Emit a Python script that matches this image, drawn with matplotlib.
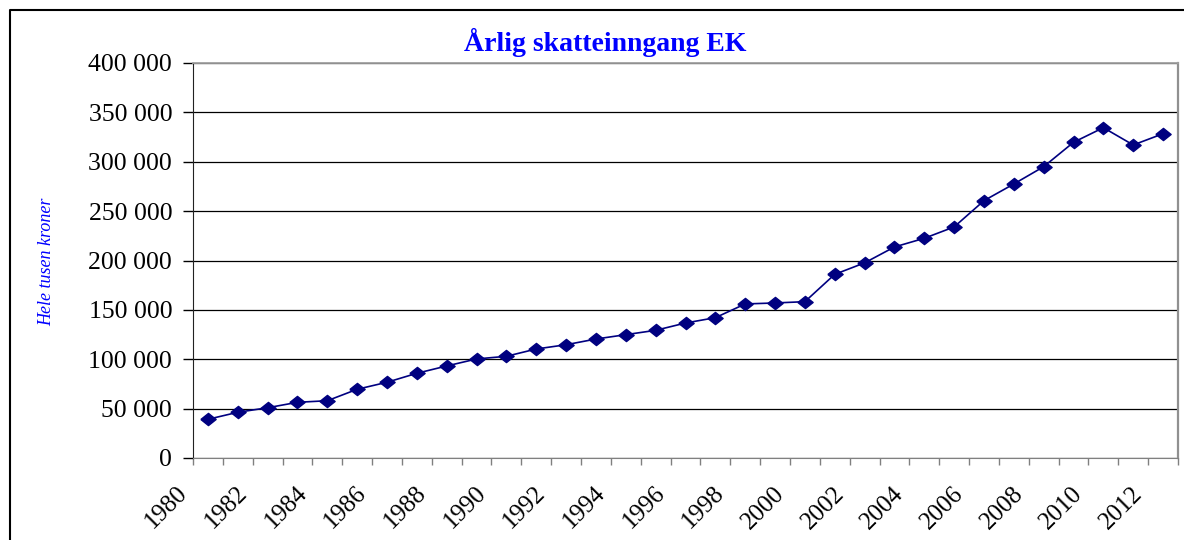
import matplotlib.pyplot as plt
from matplotlib.ticker import FuncFormatter, FixedLocator
from matplotlib.lines import Line2D
from matplotlib.transforms import ScaledTranslation

aar = ["1980", "1981", "1982", "1983", "1984", "1985", "1986", "1987", "1988", "1989",
       "1990", "1991", "1992", "1993", "1994", "1995", "1996", "1997", "1998", "1999",
       "2000", "2001", "2002", "2003", "2004", "2005", "2006", "2007", "2008", "2009",
       "2010", "2011", "2012"]
skatt = [39200, 46300, 50900, 56400, 58000, 69600, 76700, 85800, 93200, 100300,
         103000, 110400, 114700, 120500, 124900, 129300, 136700, 142100, 156000, 157000,
         158300, 186000, 197600, 213700, 222500, 234000, 260600, 277500, 295000, 319700,
         334500, 317000, 328400]
y_ticks = [0, 50000, 100000, 150000, 200000, 250000, 300000, 350000, 400000]

plt.rcParams['font.family'] = ['Liberation Serif', 'DejaVu Serif']

fig = plt.figure(figsize=(11.84, 5.4), dpi=100)
ax = fig.add_axes([193/1184, 82/540, 985/1184, 395/540])

x = list(range(len(aar)))
diamant = [(-1, 0), (0, 0.8), (1, 0), (0, -0.8), (-1, 0)]
ax.plot(x, skatt, color="#000080", lw=1.2, marker=diamant, markersize=11, zorder=3)

ax.set_xlim(-0.5, len(aar) - 0.5)
ax.set_ylim(0, 400000)
ax.set_yticks(y_ticks)
ax.yaxis.set_major_formatter(FuncFormatter(lambda v, p: format(int(v), ",").replace(",", " ")))
ax.grid(axis="y", color="black", lw=0.9)
ax.set_axisbelow(True)

grenser = [i - 0.5 for i in range(len(aar) + 1)]
ax.xaxis.set_major_locator(FixedLocator(grenser))
etiketter = []
for i in range(len(aar) + 1):
    if i % 2 == 0 and i < len(aar):
        etiketter.append(aar[i])
    else:
        etiketter.append("")
ax.set_xticklabels(etiketter, rotation=45, ha="right", va="center", rotation_mode="anchor")
ax.tick_params(axis="x", length=5, width=1, color="#808080", labelsize=18, pad=18)
ax.tick_params(axis="y", length=7, width=1, color="black", labelsize=18.5, pad=8)
for lab in ax.get_xticklabels():
    lab.set_transform(lab.get_transform() + ScaledTranslation(-0.09, 0, fig.dpi_scale_trans))

ax.spines["left"].set_color("#222222")
ax.spines["bottom"].set_color("#808080")
ax.spines["top"].set_color("#a0a0a0")
ax.spines["right"].set_color("#909090")
ax.spines["right"].set_linewidth(1.6)
ax.spines["top"].set_linewidth(1.3)

fig.text(605/1184, 1 - 42/540, "Årlig skatteinngang EK", ha="center", va="center",
         color="#0000FF", fontsize=20, fontweight="bold")
fig.text(47/1184, 1 - 262/540, "Hele tusen kroner", ha="center", va="center",
         rotation=90, color="#0000FF", fontsize=13, style="italic")

# ramme rundt diagrammet
fig.add_artist(Line2D([10/1184, 10/1184, 1], [0, 1 - 10/540, 1 - 10/540],
                      transform=fig.transFigure, color="black", lw=1.5))

fig.savefig("out.png", dpi=100)
